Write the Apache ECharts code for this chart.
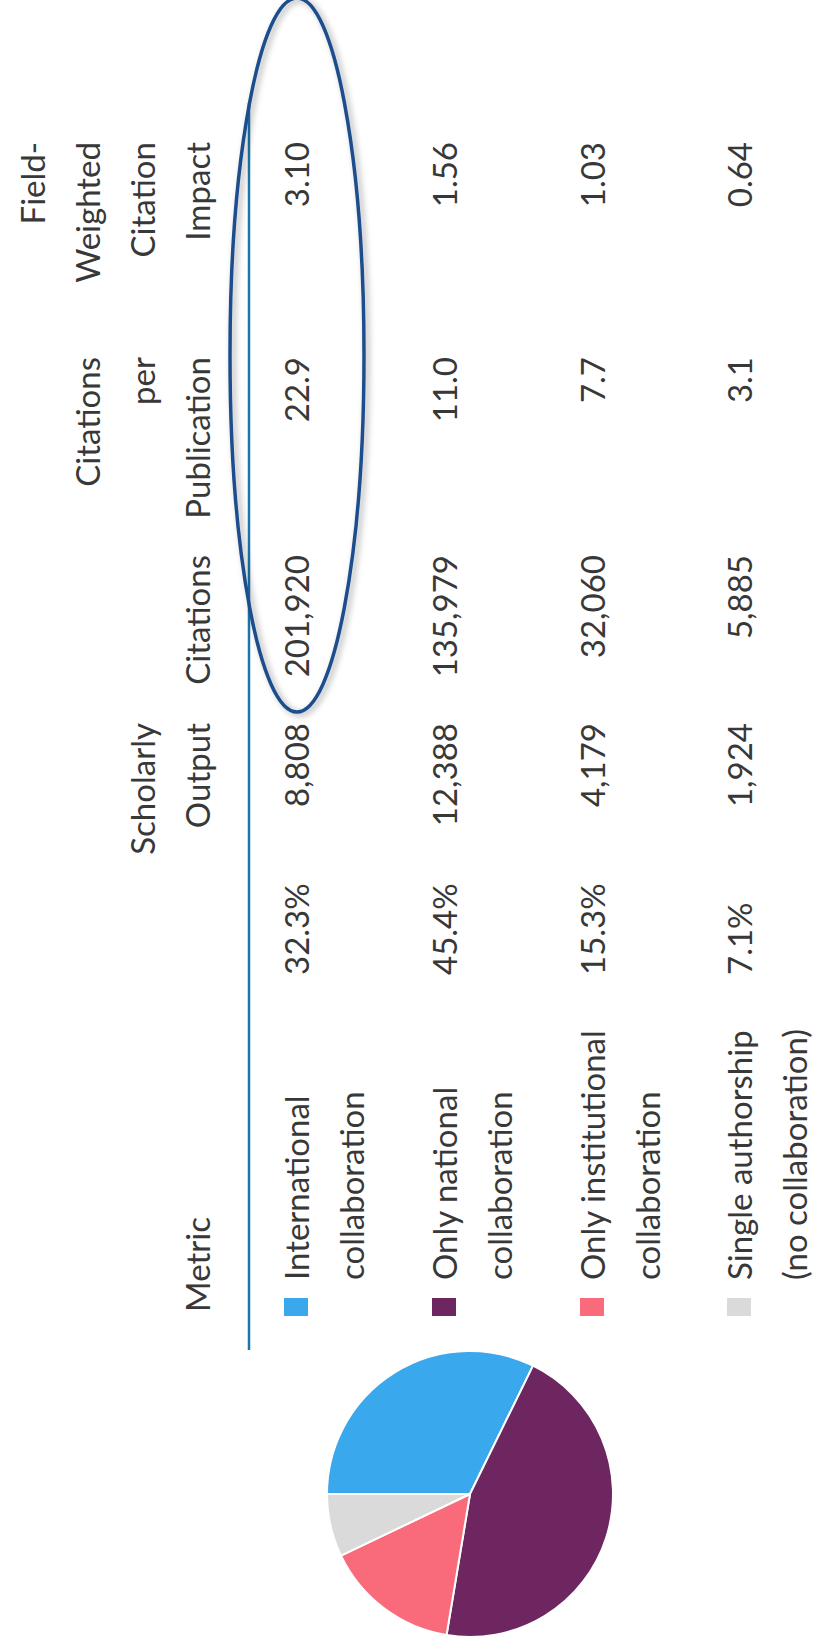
<!DOCTYPE html>
<html>
<head>
<meta charset="utf-8">
<style>
  html, body { margin: 0; padding: 0; background: #ffffff; }
  #chart { width: 814px; height: 1649px; }
</style>
<script src="https://cdn.jsdelivr.net/npm/echarts@6/dist/echarts.min.js"></script>
</head>
<body>
<div id="chart"></div>
<script>
// ---- data ----
const categories = ['International\ncollaboration', 'Only national\ncollaboration', 'Only institutional\ncollaboration', 'Single authorship\n(no collaboration)'];
const sharePct = [32.3, 45.4, 15.3, 7.1];
const scholarlyOutput = [8808, 12388, 4179, 1924];
const citations = [201920, 135979, 32060, 5885];
const citationsPerPublication = [22.9, 11.0, 7.7, 3.1];
const fieldWeightedCitationImpact = [3.10, 1.56, 1.03, 0.64];
const columnHeaders = ['Metric', '', 'Scholarly\nOutput', 'Citations', 'Citations\nper\nPublication', 'Field-\nWeighted\nCitation\nImpact'];
const sliceColors = ['#3aa8ec', '#6d2660', '#f96b7b', '#dadada'];

// ---- layout (in the unrotated table frame: u = along text, v = across) ----
const FONT = 'Lato';
const FS = 33;
const TXT = '#383838';
const LINE = 55;
const headerBase = 209;             // baseline of the last header line
const rowBase = [308, 456, 604, 751]; // baseline of first line of each row
// column anchors: [u, align]
const colAnchor = [
  [369, 'left'],   // metric label
  [674, 'left'],   // share %
  [926, 'right'],  // scholarly output
  [1094, 'right'], // citations
  [1292, 'right'], // citations per publication
  [1507, 'right']  // FWCI
];
const metricHeaderU = 337;

const fmtInt = v => v.toLocaleString('en-US');
const cellText = [
  i => categories[i],
  i => sharePct[i].toFixed(1) + '%',
  i => fmtInt(scholarlyOutput[i]),
  i => fmtInt(citations[i]),
  i => citationsPerPublication[i].toFixed(1),
  i => fieldWeightedCitationImpact[i].toFixed(2)
];

function textLine(str, u, baseline, align) {
  return {
    type: 'text',
    x: u,
    y: baseline - 0.36 * FS,
    silent: true,
    style: {
      text: str,
      fontFamily: FONT,
      fontSize: FS,
      fill: TXT,
      align: align,
      verticalAlign: 'middle'
    }
  };
}

const children = [];
// headers
columnHeaders.forEach((h, c) => {
  if (!h) return;
  const lines = h.split('\n');
  const u = c === 0 ? metricHeaderU : colAnchor[c][0];
  const align = c === 0 ? 'left' : colAnchor[c][1];
  lines.forEach((ln, k) => {
    const base = headerBase - (lines.length - 1 - k) * LINE;
    children.push(textLine(ln, u, base, align));
  });
});
// rows
categories.forEach((cat, i) => {
  // legend marker
  children.push({
    type: 'rect',
    shape: { x: 333, y: rowBase[i] - 24, width: 18, height: 24 },
    style: { fill: sliceColors[i] },
    silent: true
  });
  colAnchor.forEach((a, c) => {
    const lines = cellText[c](i).split('\n');
    lines.forEach((ln, k) => {
      children.push(textLine(ln, a[0], rowBase[i] + k * LINE, a[1]));
    });
  });
});

const chart = echarts.init(document.getElementById('chart'), null, { renderer: 'svg' });
chart.setOption({
  backgroundColor: '#ffffff',
  animation: false,
  series: [{
    type: 'pie',
    center: [470, 1494],
    radius: 143,
    startAngle: 180,
    clockwise: true,
    silent: true,
    label: { show: false },
    labelLine: { show: false },
    itemStyle: { borderColor: '#ffffff', borderWidth: 2 },
    data: categories.map((c, i) => ({
      name: c.replace('\n', ' '),
      value: sharePct[i],
      itemStyle: { color: sliceColors[i] }
    }))
  }],
  graphic: [
    {
      type: 'group',
      x: 0,
      y: 1649,
      rotation: Math.PI / 2,
      children: children
    },
    {
      type: 'line',
      silent: true,
      shape: { x1: 249, y1: 103, x2: 249, y2: 1350 },
      style: { stroke: '#1b76aa', lineWidth: 2.5 }
    },
    {
      type: 'ellipse',
      silent: true,
      shape: { cx: 297, cy: 355, rx: 67, ry: 357 },
      style: {
        fill: 'none',
        stroke: '#1e4d8c',
        lineWidth: 3.5,
        shadowBlur: 6,
        shadowColor: 'rgba(0,0,0,0.35)',
        shadowOffsetX: 3,
        shadowOffsetY: 2
      }
    }
  ]
});
</script>
</body>
</html>
